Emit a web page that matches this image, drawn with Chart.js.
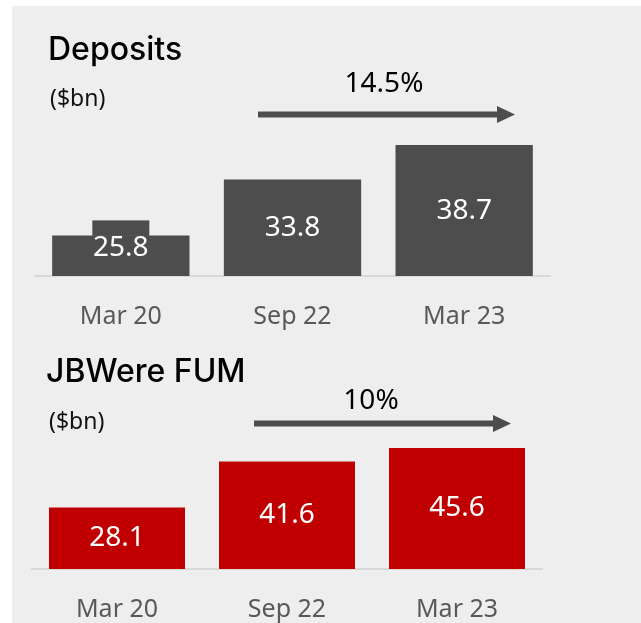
<!DOCTYPE html>
<html lang="en">
<head>
  <meta charset="UTF-8">
  <title>Deposits and JBWere FUM</title>
  <script src="https://cdn.jsdelivr.net/npm/chart.js"></script>
  <style>
    body { margin: 0; background: #fff; width: 641px; height: 623px; overflow: hidden; }
    .panel { position: absolute; left: 12px; top: 6px; width: 629px; height: 617px; background: #eeeeee; }
    .chart { position: absolute; left: 0; }
    .title { position: absolute; font-family: Inter, sans-serif; font-weight: 500; font-size: 32px; color: #000; line-height: 1; }
    .unit { position: absolute; font-family: "Noto Sans", sans-serif; font-size: 23px; color: #111; line-height: 1; }
    .growth { position: absolute; font-family: "Noto Sans", sans-serif; font-size: 28px; color: #000; line-height: 1; transform: translateX(-50%); }
    svg { position: absolute; left: 0; top: 0; }
  </style>
</head>
<body>
  <div class="panel"></div>

  <div class="chart" style="top:0; width:641px; height:358px;"><canvas id="depositsChart"></canvas></div>
  <div class="chart" style="top:340px; width:641px; height:311px;"><canvas id="fumChart"></canvas></div>

  <div class="title" style="left:48px; top:33px;">Deposits</div>
  <div class="unit" style="left:50px; top:86px;">($bn)</div>
  <div class="growth" style="left:384px; top:67px;">14.5%</div>

  <div class="title" style="left:46px; top:355px;">JBWere FUM</div>
  <div class="unit" style="left:49px; top:409px;">($bn)</div>
  <div class="growth" style="left:371px; top:384px;">10%</div>

  <svg width="641" height="623">
    <line x1="258" y1="114.5" x2="499" y2="114.5" stroke="#4d4d4d" stroke-width="6"/>
    <polygon points="497,106 515,114.5 497,123" fill="#4d4d4d"/>
    <line x1="254" y1="423.5" x2="495" y2="423.5" stroke="#4d4d4d" stroke-width="6"/>
    <polygon points="493,415 511,423.5 493,432" fill="#4d4d4d"/>
  </svg>

  <script>
    // Categories and values
    const periods = ['Mar 20', 'Sep 22', 'Mar 23'];
    const deposits = [25.8, 33.8, 38.7];
    const fum = [28.1, 41.6, 45.6];

    // White value labels centred in the visible part of each bar;
    // optional small tab on top of one bar (as in the source slide)
    const barLabels = {
      id: 'barLabels',
      afterDatasetsDraw(chart, args, opts) {
        const ctx = chart.ctx;
        const bottom = chart.chartArea.bottom;
        const ds = chart.data.datasets[0];
        ctx.save();
        chart.getDatasetMeta(0).data.forEach((bar, i) => {
          let top = bar.y;
          if (opts.tab === i) {
            ctx.fillStyle = ds.backgroundColor;
            ctx.fillRect(bar.x - 28.5, bar.y - 15, 57, 15.5);
            top = bar.y - 15;
          }
          ctx.fillStyle = '#ffffff';
          ctx.font = '28px "Noto Sans"';
          ctx.textAlign = 'center';
          ctx.textBaseline = 'middle';
          ctx.fillText(ds.data[i].toFixed(1), bar.x, (top + Math.min(bar.base, bottom)) / 2);
        });
        ctx.restore();
      }
    };

    function makeChart(id, values, color, yMin, yMax, pad, tab) {
      return new Chart(document.getElementById(id), {
        type: 'bar',
        data: {
          labels: periods,
          datasets: [{
            data: values,
            backgroundColor: color,
            borderWidth: 0,
            barPercentage: 0.8,
            categoryPercentage: 1
          }]
        },
        options: {
          responsive: true,
          maintainAspectRatio: false,
          animation: false,
          layout: { padding: pad },
          plugins: {
            legend: { display: false },
            tooltip: { enabled: false },
            barLabels: { tab: tab }
          },
          scales: {
            x: {
              grid: { display: false, drawTicks: false },
              border: { display: true, color: '#d9d9d9', width: 2 },
              ticks: {
                padding: 26,
                color: '#595959',
                font: { family: 'Noto Sans', size: 25, lineHeight: 1.2 }
              }
            },
            y: { display: false, min: yMin, max: yMax }
          }
        },
        plugins: [barLabels]
      });
    }

    makeChart('depositsChart', deposits, '#4d4d4d', 20, 40, { top: 136, left: 35, right: 91, bottom: 0 }, 0);
    makeChart('fumChart', fum, '#c00000', 10, 50, { top: 93, left: 32, right: 99, bottom: 0 }, -1);
  </script>
</body>
</html>
